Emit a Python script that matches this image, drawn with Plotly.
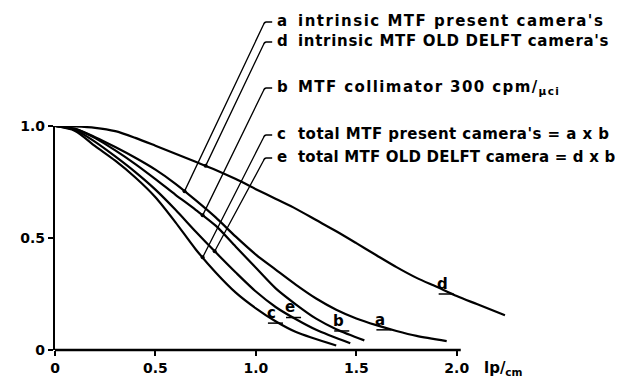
import numpy as np
import plotly.graph_objects as go

# ---------------- data ----------------
d_x = [0, 0.1, 0.2, 0.3, 0.4, 0.5, 0.6, 0.7, 0.8, 0.9, 1.0, 1.1, 1.2, 1.3, 1.4, 1.5, 1.6, 1.7, 1.8, 1.9, 2.0, 2.1, 2.24]
d_y = [1.0, 0.998, 0.992, 0.977, 0.947, 0.912, 0.876, 0.84, 0.804, 0.763, 0.718, 0.674, 0.63, 0.58, 0.53, 0.477, 0.423, 0.37, 0.322, 0.282, 0.241, 0.205, 0.155]

a_x = [0, 0.1, 0.2, 0.3, 0.4, 0.5, 0.6, 0.7, 0.8, 0.9, 1.0, 1.1, 1.2, 1.3, 1.4, 1.5, 1.6, 1.7, 1.8, 1.95]
a_y = [1.0, 0.987, 0.95, 0.906, 0.858, 0.805, 0.742, 0.669, 0.592, 0.506, 0.426, 0.358, 0.291, 0.23, 0.18, 0.141, 0.111, 0.085, 0.063, 0.04]

b_x = [0, 0.1, 0.2, 0.3, 0.4, 0.5, 0.6, 0.7, 0.8, 0.9, 1.0, 1.1, 1.2, 1.3, 1.4, 1.54]
b_y = [1.0, 0.987, 0.946, 0.891, 0.83, 0.763, 0.693, 0.626, 0.555, 0.461, 0.367, 0.274, 0.203, 0.14, 0.093, 0.043]

e_x = [0, 0.1, 0.2, 0.3, 0.4, 0.5, 0.6, 0.7, 0.8, 0.9, 1.0, 1.1, 1.2, 1.3, 1.47]
e_y = [1.0, 0.982, 0.929, 0.864, 0.794, 0.716, 0.626, 0.529, 0.436, 0.346, 0.261, 0.191, 0.137, 0.09, 0.03]

c_x = [0, 0.1, 0.2, 0.3, 0.4, 0.5, 0.6, 0.7, 0.8, 0.9, 1.0, 1.1, 1.2, 1.4]
c_y = [1.0, 0.978, 0.91, 0.845, 0.77, 0.682, 0.57, 0.45, 0.346, 0.256, 0.186, 0.127, 0.08, 0.02]

x_tickvals = [0, 0.5, 1.0, 1.5, 2.0]
x_ticktext = ["0", "0.5", "1.0", "1.5", "2.0"]
y_tickvals = [0, 0.5, 1.0]
y_ticktext = ["0", "0.5", "1.0"]

legend_letters = ["a", "d", "b", "c", "e"]
legend_texts = [
    "intrinsic MTF present camera's",
    "intrinsic MTF OLD DELFT camera's",
    "MTF collimator 300 cpm/<sub>µci</sub>",
    "total MTF present camera's = a x b",
    "total MTF OLD DELFT camera = d x b",
]
# where each leader touches its curve (x in lp/cm)
leader_x = {"a": 0.645, "b": 0.735, "c": 0.735, "d": 0.75, "e": 0.795}
# curve letter labels (x, y)
label_pos = {"c": (1.08, 0.165), "e": (1.17, 0.19), "b": (1.41, 0.13), "a": (1.62, 0.135), "d": (1.93, 0.295)}

curves = {"a": (a_x, a_y), "b": (b_x, b_y), "c": (c_x, c_y), "d": (d_x, d_y), "e": (e_x, e_y)}

# ---------------- layout geometry ----------------
W, H = 623, 388
ML, MR, MT, MB = 41, 114, 118, 46
XR = [0, 2.3]
YR = [0, 1.0]
AXIS_END = 2.02

FONT = "'DejaVu Sans', Verdana, sans-serif"
FS = 14
LEG_FS = 15
# per-row letter spacing (px) so that each row spans like the original
row_spacing = [1.5, 0.7, 1.4, 0.45, 0.2]

fig = go.Figure()
for k in ["d", "a", "b", "e", "c"]:
    xs, ys = curves[k]
    fig.add_trace(go.Scatter(x=xs, y=ys, mode="lines",
                             line=dict(color="black", width=2.2, shape="spline", smoothing=0.8),
                             hoverinfo="skip", showlegend=False))

pw = W - ML - MR
ph = H - MT - MB

def to_paper(x, y):
    return (x - XR[0]) / (XR[1] - XR[0]), (y - YR[0]) / (YR[1] - YR[0])

def px_to_paper(px, py):
    return (px - ML) / pw, (H - MB - py) / ph

# legend rows (pixel rows of the text block)
row_px = [13, 33, 79, 126, 149]
LETTER_X = 264
TEXT_X = 285

shapes = []
annotations = []
dot_x, dot_y = [], []
for k, txt, rowy, ls in zip(legend_letters, legend_texts, row_px, row_spacing):
    xs, ys = curves[k]
    lx = leader_x[k]
    ly = float(np.interp(lx, xs, ys))
    dot_x.append(lx)
    dot_y.append(ly)
    ax, ay = to_paper(lx, ly)
    s1x, sy = px_to_paper(LETTER_X - 3, rowy + 1)
    s0x, _ = px_to_paper(LETTER_X - 9, rowy + 1)
    cx, _ = px_to_paper(LETTER_X - 11, rowy + 1)
    qx, qy = px_to_paper(LETTER_X - 12, rowy + 4)
    shapes.append(dict(type="path", xref="paper", yref="paper",
                       path=f"M {s1x} {sy} L {s0x} {sy} Q {cx} {sy} {qx} {qy} L {ax} {ay}",
                       line=dict(color="black", width=1.3)))
    lxp, lyp = px_to_paper(LETTER_X, rowy)
    annotations.append(dict(xref="paper", yref="paper", x=lxp, y=lyp, xanchor="left", yanchor="middle",
                            text=f"<b>{k}</b>", showarrow=False,
                            font=dict(family=FONT, size=LEG_FS, color="black")))
    txp, _ = px_to_paper(TEXT_X, rowy)
    annotations.append(dict(xref="paper", yref="paper", x=txp, y=lyp, xanchor="left", yanchor="middle",
                            text=f"<b><span style='letter-spacing:{ls}px'>{txt}</span></b>", showarrow=False,
                            font=dict(family=FONT, size=LEG_FS, color="black")))

fig.add_trace(go.Scatter(x=dot_x, y=dot_y, mode="markers", marker=dict(color="black", size=4),
                         hoverinfo="skip", showlegend=False, cliponaxis=False))

for k, (x, y) in label_pos.items():
    annotations.append(dict(x=x, y=y, xref="x", yref="y", showarrow=False,
                            text=f"<b>{k}</b>", font=dict(family=FONT, size=LEG_FS, color="black")))
    # underline of the curve letter
    u0, uy = to_paper(x - 0.02, y - 0.045)
    u1, _ = to_paper(x + 0.055, y - 0.045)
    shapes.append(dict(type="line", xref="paper", yref="paper", x0=u0, x1=u1, y0=uy, y1=uy,
                       line=dict(color="black", width=1.5)))

# x axis line, ending just after 2.0
ax_end, _ = to_paper(AXIS_END, 0)
shapes.append(dict(type="line", xref="paper", yref="paper", x0=0, x1=ax_end, y0=0, y1=0,
                   line=dict(color="black", width=2.4)))

# unit label lp/cm
ux, uy = px_to_paper(474, 360)
annotations.append(dict(xref="paper", yref="paper", x=ux, y=uy, xanchor="left", yanchor="middle",
                        text="<b>lp/<sub>cm</sub></b>", showarrow=False,
                        font=dict(family=FONT, size=LEG_FS, color="black")))

fig.update_layout(
    width=W, height=H,
    margin=dict(l=ML, r=MR, t=MT, b=MB),
    paper_bgcolor="white", plot_bgcolor="white",
    shapes=shapes, annotations=annotations,
    font=dict(family=FONT, size=FS, color="black"),
    xaxis=dict(range=XR, tickvals=x_tickvals, ticktext=[f"<b>{t}</b>" for t in x_ticktext],
               showgrid=False, zeroline=False, showline=False,
               ticks="outside", ticklen=5, tickwidth=1.5, tickcolor="black", fixedrange=True),
    yaxis=dict(range=YR, tickvals=y_tickvals, ticktext=[f"<b>{t}</b>" for t in y_ticktext],
               showgrid=False, zeroline=False, showline=True, linecolor="black", linewidth=2.4,
               ticks="outside", ticklen=5, tickwidth=1.5, tickcolor="black", fixedrange=True),
)

fig.write_html("out.html")
